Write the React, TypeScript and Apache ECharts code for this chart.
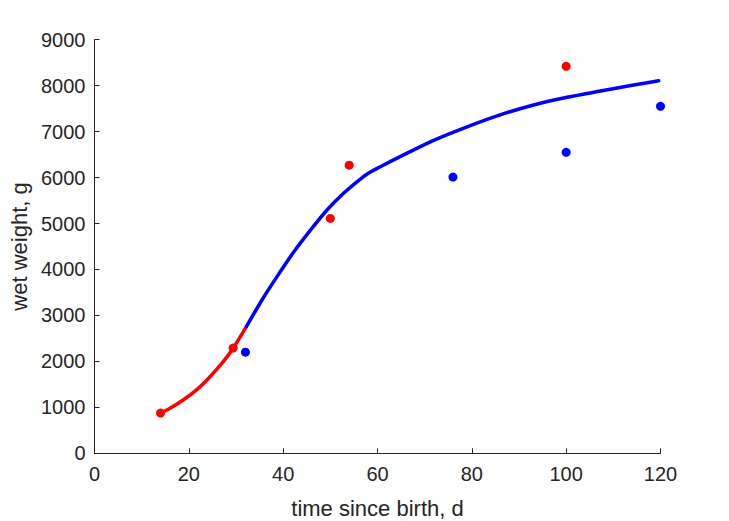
import React, { useEffect, useRef } from "react";
import * as echarts from "echarts";

// Observed wet weights (g) against time since birth (d)
const redTimes = [14, 29.4, 50, 54, 100];
const redWeights = [875, 2290, 5110, 6270, 8420];
const blueTimes = [32, 76, 100, 120];
const blueWeights = [2200, 6010, 6550, 7550];

// Fitted growth curve, early phase (red) and later phase (blue)
const fitEarlyTimes = [14, 16, 18.8, 21.7, 24.5, 27.3, 29.4, 32.2];
const fitEarlyWeights = [870, 979, 1160, 1385, 1667, 1993, 2285, 2755];
const fitLateTimes = [32.2, 35.8, 39.35, 42.2, 45.7, 49.3, 52.8, 56.3, 58.4, 60.6, 64.8, 71.9, 79, 86, 93.1, 100.2, 107.3, 114.3, 119.6];
const fitLateWeights = [2755, 3385, 3945, 4375, 4845, 5294, 5657, 5962, 6114, 6236, 6455, 6810, 7105, 7365, 7580, 7746, 7883, 8013, 8107];

const xTickStep = 20;
const yTickStep = 1000;

const pairs = (xs: number[], ys: number[]) => xs.map((x, i) => [x, ys[i]]);

const FONT = "'Liberation Sans', Arial, Helvetica, sans-serif";
const INK = "#262626";

export default function App() {
  const ref = useRef<HTMLDivElement>(null);

  useEffect(() => {
    if (!ref.current) return;
    const chart = echarts.init(ref.current, undefined, { renderer: "svg" });
    const axisCommon = {
      axisLine: { show: true, lineStyle: { color: INK, width: 1 } },
      axisTick: { show: true, inside: true, length: 5, lineStyle: { color: INK, width: 1 } },
      splitLine: { show: false },
      axisLabel: { color: INK, fontSize: 20, fontFamily: FONT, formatter: (v: number) => String(v) },
      nameTextStyle: { color: INK, fontSize: 22, fontFamily: FONT },
      nameLocation: "middle" as const,
    };
    chart.setOption({
      animation: false,
      backgroundColor: "#ffffff",
      grid: {
        left: 94.5,
        right: 68.5,
        top: 39.7,
        bottom: 67.7,
        containLabel: false,
        outerBoundsMode: "none",
      },
      xAxis: {
        type: "value",
        min: 0,
        max: 120,
        interval: xTickStep,
        name: "time since birth, d",
        nameGap: 44,
        ...axisCommon,
        axisLabel: { ...axisCommon.axisLabel, margin: 11 },
      },
      yAxis: {
        type: "value",
        min: 0,
        max: 9000,
        interval: yTickStep,
        name: "wet weight, g",
        nameGap: 62,
        ...axisCommon,
        axisLabel: { ...axisCommon.axisLabel, margin: 9 },
      },
      series: [
        {
          type: "line",
          data: pairs(fitEarlyTimes, fitEarlyWeights),
          showSymbol: false,
          smooth: 0.3,
          lineStyle: { color: "#ff0000", width: 3.5, cap: "round", join: "round" },
          z: 2,
        },
        {
          type: "line",
          data: pairs(fitLateTimes, fitLateWeights),
          showSymbol: false,
          smooth: 0.3,
          lineStyle: { color: "#0000ff", width: 3.5, cap: "round", join: "round" },
          z: 2,
        },
        {
          type: "scatter",
          data: pairs(redTimes, redWeights),
          symbol: "circle",
          symbolSize: 9,
          itemStyle: { color: "#ff0000", opacity: 1 },
          z: 3,
        },
        {
          type: "scatter",
          data: pairs(blueTimes, blueWeights),
          symbol: "circle",
          symbolSize: 9,
          itemStyle: { color: "#0000ff", opacity: 1 },
          z: 3,
        },
      ],
    });
    return () => chart.dispose();
  }, []);

  return (
    <div
      ref={ref}
      style={{ position: "absolute", left: 0, top: 0, width: 729, height: 521 }}
    />
  );
}
